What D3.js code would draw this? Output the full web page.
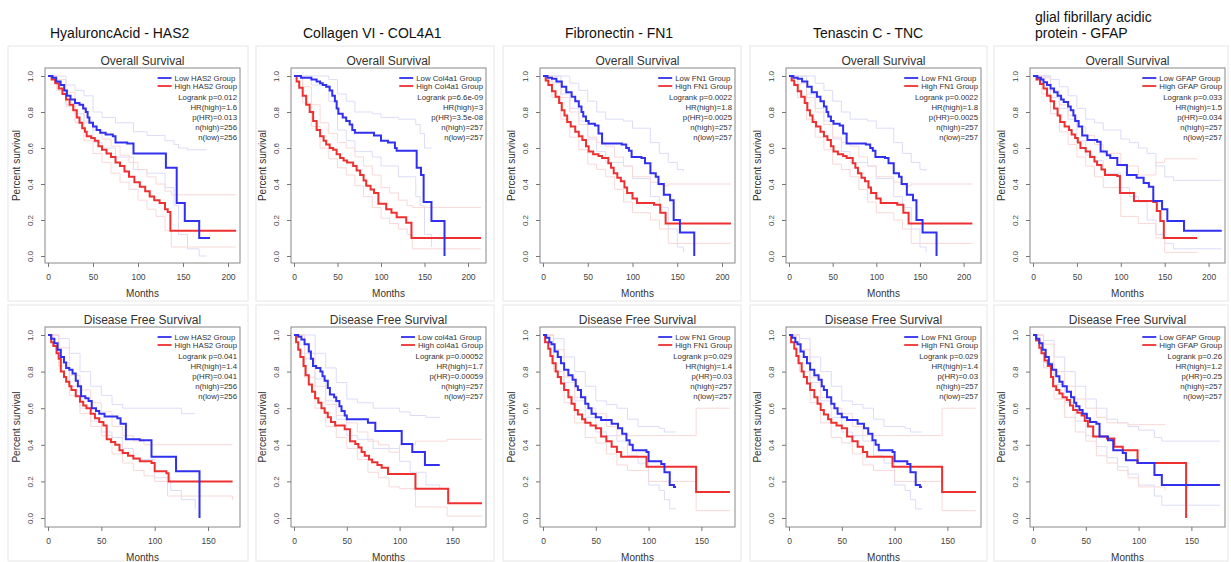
<!DOCTYPE html>
<html>
<head>
<meta charset="utf-8">
<script src="https://cdn.jsdelivr.net/npm/d3@7"></script>
<style>
  body { margin: 0; background: #fff; }
  svg { display: block; font-family: "Liberation Sans", Arial, sans-serif; }
</style>
</head>
<body>
<svg id="chart"></svg>
<script>
// curves are [months, survival]; bands are [months, lower, upper]

// HAS2 - overall survival
const has2OsLow = [[0,1],[5,0.99],[9,0.97],[14,0.95],[18,0.92],[21,0.89],[25,0.87],[30,0.85],[35,0.84],[39,0.82],[42,0.8],[44,0.77],[46,0.74],[50,0.72],[54,0.7],[58,0.685],[64,0.675],[72,0.665],[75,0.63],[88,0.625],[95,0.57],[131,0.49],[143,0.295],[152,0.195],[168,0.1],[180,0.1]]
const has2OsHigh = [[0,1],[4,0.98],[8,0.96],[12,0.93],[16,0.9],[20,0.87],[24,0.84],[28,0.81],[32,0.77],[35,0.74],[38,0.71],[41,0.69],[43,0.665],[48,0.655],[52,0.64],[56,0.61],[60,0.59],[65,0.57],[70,0.55],[75,0.52],[80,0.5],[85,0.47],[90,0.44],[96,0.41],[102,0.385],[108,0.36],[113,0.33],[118,0.31],[124,0.295],[130,0.26],[133,0.245],[136,0.14],[209,0.14]]
const has2OsLowBand = [[0,1,1],[10,0.92,1],[20,0.84,0.95],[30,0.79,0.92],[40,0.74,0.89],[50,0.63,0.8],[60,0.6,0.77],[75,0.55,0.74],[95,0.48,0.69],[110,0.46,0.67],[130,0.38,0.64],[140,0.28,0.62],[145,0.12,0.6],[155,0.04,0.59],[168,0,0.59],[176,0,0.59]]
const has2OsHighBand = [[0,1,1],[10,0.92,0.98],[20,0.83,0.91],[30,0.74,0.84],[40,0.64,0.75],[50,0.57,0.7],[60,0.52,0.65],[70,0.46,0.61],[80,0.41,0.56],[90,0.37,0.52],[100,0.31,0.48],[110,0.26,0.44],[120,0.22,0.4],[130,0.14,0.36],[137,0.05,0.34],[209,0.05,0.34]]
const has2OsStats = ['Logrank p=0.012', 'HR(high)=1.6', 'p(HR)=0.013', 'n(high)=256', 'n(low)=256']

// HAS2 - disease free survival
const has2DfsLow = [[0,1],[3,0.98],[6,0.955],[9,0.92],[12,0.88],[15,0.85],[17,0.82],[20,0.81],[23,0.79],[26,0.75],[28,0.72],[31,0.665],[35,0.655],[38,0.64],[41,0.6],[45,0.585],[48,0.57],[53,0.555],[65,0.545],[68,0.515],[73,0.43],[86,0.425],[97,0.335],[120,0.255],[142,0]]
const has2DfsHigh = [[0,1],[3,0.96],[5,0.94],[8,0.9],[10,0.87],[12,0.8],[15,0.77],[17,0.745],[20,0.72],[22,0.7],[26,0.665],[30,0.635],[33,0.615],[36,0.6],[40,0.57],[44,0.545],[48,0.525],[52,0.505],[55,0.43],[59,0.415],[63,0.4],[67,0.37],[70,0.355],[75,0.34],[80,0.325],[86,0.31],[97,0.3],[100,0.255],[111,0.245],[113,0.2],[173,0.2]]
const has2DfsLowBand = [[0,1,1],[10,0.85,0.98],[20,0.72,0.9],[30,0.6,0.8],[40,0.53,0.72],[50,0.47,0.67],[60,0.44,0.62],[70,0.38,0.6],[80,0.32,0.6],[100,0.22,0.6],[115,0.15,0.6],[125,0.1,0.57],[138,0.05,0.57]]
const has2DfsHighBand = [[0,1,1],[10,0.83,0.93],[20,0.67,0.78],[30,0.57,0.7],[40,0.5,0.63],[50,0.45,0.58],[60,0.35,0.5],[70,0.3,0.45],[80,0.26,0.42],[90,0.23,0.4],[100,0.2,0.4],[112,0.12,0.4],[173,0.1,0.4]]
const has2DfsStats = ['Logrank p=0.041', 'HR(high)=1.4', 'p(HR)=0.041', 'n(high)=256', 'n(low)=256']
const has2Legend = ['Low HAS2 Group', 'High HAS2 Group']

// COL4A1 - overall survival
const col4a1OsLow = [[0,1],[8,0.99],[20,0.98],[26,0.97],[30,0.96],[33,0.95],[37,0.94],[41,0.92],[44,0.89],[47,0.86],[49,0.82],[51,0.79],[56,0.77],[60,0.75],[64,0.73],[67,0.7],[70,0.685],[92,0.67],[100,0.64],[108,0.63],[116,0.6],[118,0.585],[141,0.49],[146,0.45],[149,0.3],[158,0.195],[173,0]]
const col4a1OsHigh = [[0,1],[3,0.97],[6,0.935],[10,0.89],[14,0.84],[18,0.8],[22,0.75],[26,0.7],[30,0.665],[34,0.64],[37,0.62],[41,0.6],[45,0.59],[49,0.565],[53,0.545],[57,0.53],[61,0.52],[68,0.5],[72,0.475],[76,0.45],[80,0.42],[83,0.39],[88,0.37],[92,0.35],[97,0.29],[106,0.26],[112,0.24],[118,0.215],[129,0.185],[135,0.1],[215,0.1]]
const col4a1OsLowBand = [[0,1,1],[20,0.95,1],[40,0.86,0.98],[50,0.7,0.9],[60,0.64,0.86],[70,0.58,0.8],[90,0.55,0.79],[100,0.5,0.77],[120,0.44,0.76],[140,0.33,0.73],[145,0.28,0.68],[150,0.12,0.6],[158,0.05,0.6]]
const col4a1OsHighBand = [[0,1,1],[10,0.85,0.94],[20,0.72,0.84],[30,0.6,0.74],[40,0.54,0.68],[50,0.49,0.63],[60,0.45,0.6],[70,0.39,0.55],[80,0.33,0.5],[90,0.27,0.45],[100,0.21,0.38],[110,0.18,0.35],[120,0.15,0.31],[130,0.12,0.28],[136,0.04,0.27],[215,0.04,0.27]]
const col4a1OsStats = ['Logrank p=6.6e-09', 'HR(high)=3', 'p(HR)=3.5e-08', 'n(high)=257', 'n(low)=257']
const col4a1OsLegend = ['Low Col4a1 Group', 'High Col4a1 Group']

// COL4A1 - disease free survival
const col4a1DfsLow = [[0,1],[4,0.99],[7,0.975],[10,0.95],[14,0.91],[16,0.87],[18,0.83],[21,0.82],[25,0.8],[27,0.775],[29,0.75],[32,0.71],[34,0.675],[38,0.66],[40,0.64],[43,0.61],[45,0.585],[48,0.56],[50,0.54],[70,0.52],[77,0.475],[102,0.405],[112,0.36],[124,0.29],[138,0.29]]
const col4a1DfsHigh = [[0,1],[2,0.96],[4,0.92],[6,0.88],[9,0.83],[11,0.78],[14,0.73],[17,0.69],[20,0.655],[23,0.63],[26,0.6],[29,0.575],[32,0.55],[35,0.525],[39,0.505],[48,0.485],[53,0.42],[58,0.405],[61,0.385],[64,0.36],[67,0.34],[71,0.32],[74,0.305],[79,0.29],[83,0.275],[89,0.24],[115,0.16],[146,0.08],[178,0.08]]
const col4a1DfsLowBand = [[0,1,1],[10,0.9,1],[20,0.76,0.9],[30,0.64,0.82],[40,0.54,0.74],[50,0.45,0.65],[60,0.43,0.63],[75,0.38,0.6],[100,0.31,0.58],[110,0.25,0.56],[125,0.18,0.55],[138,0.16,0.55]]
const col4a1DfsHighBand = [[0,1,1],[10,0.77,0.87],[20,0.6,0.72],[30,0.5,0.62],[40,0.44,0.56],[50,0.38,0.52],[60,0.32,0.47],[70,0.25,0.42],[80,0.22,0.4],[90,0.17,0.36],[100,0.16,0.4],[115,0.06,0.42],[145,0.01,0.43],[178,0.01,0.43]]
const col4a1DfsStats = ['Logrank p=0.00052', 'HR(high)=1.7', 'p(HR)=0.00059', 'n(high)=257', 'n(low)=257']
const col4a1DfsLegend = ['Low col4a1 Group', 'High col4a1 Group']

// FN1 - overall survival (the TNC panels show the same FN1 plots)
const fn1OsLow = [[0,1],[5,0.99],[10,0.985],[15,0.97],[21,0.94],[26,0.91],[32,0.885],[36,0.86],[40,0.83],[43,0.8],[45,0.775],[48,0.75],[51,0.735],[58,0.725],[62,0.68],[66,0.625],[88,0.62],[93,0.6],[96,0.585],[99,0.55],[110,0.545],[114,0.515],[120,0.46],[126,0.44],[129,0.4],[135,0.34],[142,0.31],[146,0.2],[153,0.13],[169,0]]
const fn1OsHigh = [[0,1],[3,0.975],[6,0.95],[10,0.915],[14,0.885],[18,0.85],[21,0.81],[24,0.78],[27,0.745],[31,0.72],[36,0.69],[40,0.665],[44,0.645],[48,0.61],[51,0.58],[56,0.565],[62,0.555],[66,0.545],[73,0.515],[76,0.49],[79,0.46],[83,0.435],[87,0.415],[91,0.38],[94,0.35],[100,0.32],[105,0.295],[124,0.285],[131,0.24],[137,0.18],[210,0.18]]
const fn1OsLowBand = [[0,1,1],[20,0.9,1],[30,0.82,0.96],[40,0.75,0.92],[50,0.65,0.86],[60,0.58,0.8],[70,0.52,0.76],[90,0.5,0.75],[100,0.43,0.71],[120,0.33,0.63],[130,0.27,0.57],[140,0.15,0.52],[150,0.05,0.48],[157,0.02,0.47]]
const fn1OsHighBand = [[0,1,1],[10,0.88,0.96],[20,0.76,0.88],[30,0.66,0.8],[40,0.59,0.73],[50,0.51,0.66],[60,0.48,0.63],[70,0.44,0.61],[80,0.37,0.55],[90,0.3,0.5],[100,0.24,0.44],[120,0.2,0.41],[130,0.15,0.39],[140,0.07,0.4],[210,0.07,0.4]]
const fn1OsStats = ['Logrank p=0.0022', 'HR(high)=1.8', 'p(HR)=0.0025', 'n(high)=257', 'n(low)=257']

// FN1 - disease free survival
const fn1DfsLow = [[0,1],[3,0.985],[6,0.96],[8,0.95],[11,0.91],[14,0.88],[17,0.845],[20,0.81],[24,0.78],[28,0.755],[31,0.72],[33,0.7],[36,0.66],[40,0.625],[43,0.6],[46,0.57],[50,0.55],[55,0.535],[65,0.515],[71,0.49],[75,0.46],[79,0.425],[82,0.4],[85,0.37],[98,0.36],[100,0.31],[112,0.295],[115,0.25],[120,0.18],[124,0.17],[126,0.17]]
const fn1DfsHigh = [[0,1],[2,0.96],[5,0.925],[7,0.885],[9,0.845],[12,0.8],[14,0.77],[17,0.735],[20,0.7],[24,0.66],[27,0.625],[30,0.59],[33,0.565],[37,0.54],[40,0.52],[45,0.505],[50,0.49],[55,0.445],[60,0.42],[65,0.39],[70,0.36],[74,0.335],[98,0.28],[145,0.142],[177,0.142]]
const fn1DfsLowBand = [[0,1,1],[10,0.88,0.98],[20,0.74,0.88],[30,0.64,0.8],[40,0.55,0.72],[50,0.47,0.64],[60,0.45,0.62],[70,0.42,0.6],[80,0.34,0.54],[90,0.3,0.5],[100,0.18,0.5],[110,0.15,0.49],[115,0.1,0.47],[120,0.05,0.47],[126,0.05,0.47]]
const fn1DfsHighBand = [[0,1,1],[10,0.8,0.92],[20,0.63,0.77],[30,0.52,0.66],[40,0.44,0.6],[50,0.41,0.57],[60,0.35,0.5],[70,0.29,0.45],[80,0.26,0.45],[100,0.2,0.45],[145,0.04,0.6],[177,0.04,0.6]]
const fn1DfsStats = ['Logrank p=0.029', 'HR(high)=1.4', 'p(HR)=0.03', 'n(high)=257', 'n(low)=257']
const fn1Legend = ['Low FN1 Group', 'High FN1 Group']

// GFAP - overall survival
const gfapOsLow = [[0,1],[5,0.99],[9,0.98],[12,0.965],[16,0.95],[20,0.93],[24,0.91],[28,0.89],[32,0.87],[35,0.855],[40,0.83],[43,0.81],[46,0.78],[48,0.75],[52,0.72],[56,0.67],[62,0.645],[73,0.635],[77,0.58],[84,0.56],[88,0.545],[96,0.505],[107,0.45],[118,0.435],[126,0.405],[132,0.385],[137,0.305],[147,0.26],[153,0.195],[172,0.14],[215,0.14]]
const gfapOsHigh = [[0,1],[4,0.98],[8,0.955],[12,0.93],[16,0.89],[20,0.86],[24,0.82],[28,0.78],[31,0.745],[36,0.72],[41,0.7],[44,0.675],[48,0.655],[51,0.63],[54,0.6],[60,0.58],[65,0.55],[70,0.525],[73,0.505],[78,0.48],[82,0.45],[96,0.445],[99,0.35],[115,0.305],[137,0.3],[141,0.25],[145,0.195],[149,0.1],[187,0.1]]
const gfapOsLowBand = [[0,1,1],[20,0.88,0.98],[30,0.82,0.94],[40,0.76,0.89],[50,0.64,0.82],[60,0.56,0.76],[70,0.53,0.74],[80,0.46,0.7],[100,0.38,0.65],[110,0.33,0.63],[120,0.3,0.6],[130,0.2,0.57],[140,0.12,0.5],[150,0.07,0.44],[160,0.04,0.42],[215,0.04,0.42]]
const gfapOsHighBand = [[0,1,1],[10,0.9,0.99],[20,0.79,0.92],[30,0.69,0.84],[40,0.62,0.78],[50,0.55,0.72],[60,0.5,0.67],[70,0.44,0.62],[80,0.38,0.57],[100,0.22,0.5],[120,0.18,0.45],[140,0.1,0.52],[150,0.02,0.54],[187,0.02,0.54]]
const gfapOsStats = ['Logrank p=0.033', 'HR(high)=1.5', 'p(HR)=0.034', 'n(high)=257', 'n(low)=257']

// GFAP - disease free survival
const gfapDfsLow = [[0,1],[3,0.98],[6,0.955],[9,0.92],[12,0.88],[15,0.84],[18,0.81],[22,0.775],[25,0.745],[28,0.72],[32,0.69],[36,0.66],[39,0.63],[41,0.61],[44,0.59],[47,0.57],[51,0.545],[54,0.525],[60,0.515],[63,0.445],[71,0.425],[76,0.37],[85,0.355],[88,0.315],[99,0.3],[115,0.235],[122,0.18],[177,0.18]]
const gfapDfsHigh = [[0,1],[3,0.97],[6,0.93],[8,0.9],[11,0.86],[14,0.83],[17,0.77],[19,0.72],[22,0.7],[25,0.68],[28,0.66],[32,0.645],[35,0.615],[38,0.59],[42,0.575],[46,0.56],[49,0.53],[52,0.5],[57,0.445],[70,0.435],[77,0.39],[85,0.37],[99,0.3],[145,0]]
const gfapDfsLowBand = [[0,1,1],[10,0.85,0.97],[20,0.73,0.88],[30,0.63,0.8],[40,0.53,0.72],[50,0.45,0.65],[60,0.39,0.6],[70,0.33,0.54],[80,0.28,0.52],[90,0.24,0.5],[100,0.18,0.48],[115,0.12,0.44],[122,0.07,0.42],[177,0.07,0.42]]
const gfapDfsHighBand = [[0,1,1],[10,0.82,0.95],[20,0.65,0.8],[30,0.55,0.72],[40,0.47,0.65],[50,0.42,0.6],[60,0.34,0.55],[70,0.3,0.52],[80,0.26,0.52],[90,0.22,0.51],[100,0.17,0.51],[125,0.15,0.51]]
const gfapDfsStats = ['Logrank p=0.26', 'HR(high)=1.2', 'p(HR)=0.25', 'n(high)=257', 'n(low)=257']
const gfapLegend = ['Low GFAP Group', 'High GFAP Group']

const geneLabels = [['HyaluroncAcid - HAS2'], ['Collagen VI - COL4A1'], ['Fibronectin - FN1'], ['Tenascin C - TNC'], ['glial fibrillary acidic', 'protein - GFAP']]
const survTicks = [0, 0.2, 0.4, 0.6, 0.8, 1.0]

// layout
const colZero = [48, 294, 543, 789, 1033]
const frameLeft = [8, 256, 503, 750, 994]
const frameRight = [248, 494, 741, 987, 1228]
const labelX = [50, 303, 565, 813, 1035]
const pxPerMonth = [[0.9, 0.87, 0.895, 0.873, 0.878], [1.067, 1.056, 1.056, 1.056, 1.056]]
const rowLayout = [
    {title: 'Overall Survival', monthTicks: [0, 50, 100, 150, 200], boxTop: 68, boxBottom: 263, yTop: 76, yBottom: 256, frameTop: 46, frameBottom: 301},
    {title: 'Disease Free Survival', monthTicks: [0, 50, 100, 150], boxTop: 327, boxBottom: 527, yTop: 335, yBottom: 518, frameTop: 305, frameBottom: 561}
]

const panels = [
    {col: 0, row: 0, low: has2OsLow, high: has2OsHigh, lowBand: has2OsLowBand, highBand: has2OsHighBand, legend: has2Legend, stats: has2OsStats},
    {col: 1, row: 0, low: col4a1OsLow, high: col4a1OsHigh, lowBand: col4a1OsLowBand, highBand: col4a1OsHighBand, legend: col4a1OsLegend, stats: col4a1OsStats},
    {col: 2, row: 0, low: fn1OsLow, high: fn1OsHigh, lowBand: fn1OsLowBand, highBand: fn1OsHighBand, legend: fn1Legend, stats: fn1OsStats},
    {col: 3, row: 0, low: fn1OsLow, high: fn1OsHigh, lowBand: fn1OsLowBand, highBand: fn1OsHighBand, legend: fn1Legend, stats: fn1OsStats},
    {col: 4, row: 0, low: gfapOsLow, high: gfapOsHigh, lowBand: gfapOsLowBand, highBand: gfapOsHighBand, legend: gfapLegend, stats: gfapOsStats},
    {col: 0, row: 1, low: has2DfsLow, high: has2DfsHigh, lowBand: has2DfsLowBand, highBand: has2DfsHighBand, legend: has2Legend, stats: has2DfsStats},
    {col: 1, row: 1, low: col4a1DfsLow, high: col4a1DfsHigh, lowBand: col4a1DfsLowBand, highBand: col4a1DfsHighBand, legend: col4a1DfsLegend, stats: col4a1DfsStats},
    {col: 2, row: 1, low: fn1DfsLow, high: fn1DfsHigh, lowBand: fn1DfsLowBand, highBand: fn1DfsHighBand, legend: fn1Legend, stats: fn1DfsStats},
    {col: 3, row: 1, low: fn1DfsLow, high: fn1DfsHigh, lowBand: fn1DfsLowBand, highBand: fn1DfsHighBand, legend: fn1Legend, stats: fn1DfsStats},
    {col: 4, row: 1, low: gfapDfsLow, high: gfapDfsHigh, lowBand: gfapDfsLowBand, highBand: gfapDfsHighBand, legend: gfapLegend, stats: gfapDfsStats}
]

const blue = '#3030ee'
const red = '#ee3030'
const blueLight = '#dcdcf8'
const redLight = '#f8d8d8'

const svg = d3.select('#chart')
    .attr('width', 1231)
    .attr('height', 562)

const drawPanel = (p) => {
    const r = rowLayout[p.row]
    const zero = colZero[p.col]
    const k = pxPerMonth[p.row][p.col]
    const maxTick = r.monthTicks[r.monthTicks.length - 1]
    const boxLeft = zero - 3
    const boxRight = zero + 192

    const x = d3.scaleLinear().domain([0, maxTick]).range([zero, zero + maxTick * k])
    const y = d3.scaleLinear().domain([0, 1]).range([r.yBottom, r.yTop])

    const g = svg.append('g')

    g.append('rect')
        .attr('x', frameLeft[p.col])
        .attr('y', r.frameTop)
        .attr('width', frameRight[p.col] - frameLeft[p.col])
        .attr('height', r.frameBottom - r.frameTop)
        .attr('fill', 'none')
        .attr('stroke', '#e6e6e6')

    const step = (idx) => d3.line()
        .curve(d3.curveStepAfter)
        .x((d) => x(d[0]))
        .y((d) => y(d[idx]))

    // confidence bands, drawn first so they sit under the curves
    const bands = [[p.lowBand, blueLight], [p.highBand, redLight]]
    bands.forEach(([band, color]) => {
        [1, 2].forEach((idx) => {
            g.append('path')
                .datum(band)
                .attr('d', step(idx))
                .attr('fill', 'none')
                .attr('stroke', color)
                .attr('stroke-width', 1)
        })
    })

    g.append('path')
        .datum(p.high)
        .attr('d', step(1))
        .attr('fill', 'none')
        .attr('stroke', red)
        .attr('stroke-width', 2)

    g.append('path')
        .datum(p.low)
        .attr('d', step(1))
        .attr('fill', 'none')
        .attr('stroke', blue)
        .attr('stroke-width', 2)

    g.append('rect')
        .attr('x', boxLeft)
        .attr('y', r.boxTop)
        .attr('width', boxRight - boxLeft)
        .attr('height', r.boxBottom - r.boxTop)
        .attr('fill', 'none')
        .attr('stroke', '#888')

    const xAxis = g.append('g')
        .attr('transform', `translate(0,${r.boxBottom})`)
        .call(d3.axisBottom(x).tickValues(r.monthTicks).tickSize(4).tickPadding(7))
    xAxis.select('.domain').remove()
    xAxis.selectAll('line').attr('stroke', '#777')
    xAxis.selectAll('text').attr('font-size', 8.5).attr('fill', '#444')

    const yAxis = g.append('g')
        .attr('transform', `translate(${boxLeft},0)`)
        .call(d3.axisLeft(y).tickValues(survTicks).tickFormat(d3.format('.1f')).tickSize(4))
    yAxis.select('.domain').remove()
    yAxis.selectAll('line').attr('stroke', '#777')
    yAxis.selectAll('text')
        .attr('x', 0)
        .attr('y', -12)
        .attr('dy', null)
        .attr('transform', 'rotate(-90)')
        .attr('text-anchor', 'middle')
        .attr('font-size', 8)
        .attr('fill', '#444')

    g.append('text')
        .attr('x', (boxLeft + boxRight) / 2)
        .attr('y', r.boxTop - 3)
        .attr('text-anchor', 'middle')
        .attr('font-size', 12)
        .attr('fill', '#333')
        .text(r.title)

    g.append('text')
        .attr('x', (boxLeft + boxRight) / 2)
        .attr('y', r.boxBottom + 34)
        .attr('text-anchor', 'middle')
        .attr('font-size', 10)
        .attr('fill', '#333')
        .text('Months')

    g.append('text')
        .attr('transform', `translate(${boxLeft - 25},${(r.boxTop + r.boxBottom) / 2}) rotate(-90)`)
        .attr('text-anchor', 'middle')
        .attr('font-size', 10)
        .attr('fill', '#333')
        .text('Percent survival')

    // legend: group names left aligned after their line, stats right aligned
    const legendFont = 7.8
    const names = g.selectAll('.legend-name')
        .data(p.legend)
        .enter()
        .append('text')
        .attr('class', 'legend-name')
        .attr('font-size', legendFont)
        .attr('fill', '#333')
        .attr('y', (d, i) => r.boxTop + 12.5 + i * 8)
        .text((d) => d)
    const widest = d3.max(names.nodes(), (n) => n.getComputedTextLength())
    const textX = boxRight - 3 - widest
    names.attr('x', textX)

    g.selectAll('.legend-line')
        .data([blue, red])
        .enter()
        .append('line')
        .attr('x1', textX - 17)
        .attr('x2', textX - 3)
        .attr('y1', (d, i) => r.boxTop + 10 + i * 8)
        .attr('y2', (d, i) => r.boxTop + 10 + i * 8)
        .attr('stroke', (d) => d)
        .attr('stroke-width', 1.8)

    g.selectAll('.legend-stat')
        .data(p.stats)
        .enter()
        .append('text')
        .attr('font-size', legendFont)
        .attr('fill', '#333')
        .attr('text-anchor', 'end')
        .attr('x', boxRight - 3)
        .attr('y', (d, i) => r.boxTop + 31.5 + i * 10.2)
        .text((d) => d)
}

panels.forEach(drawPanel)

geneLabels.forEach((lines, col) => {
    lines.forEach((line, i) => {
        svg.append('text')
            .attr('x', labelX[col])
            .attr('y', 38 - (lines.length - 1 - i) * 16)
            .attr('font-size', 14)
            .attr('fill', '#111')
            .text(line)
    })
})
</script>
</body>
</html>
